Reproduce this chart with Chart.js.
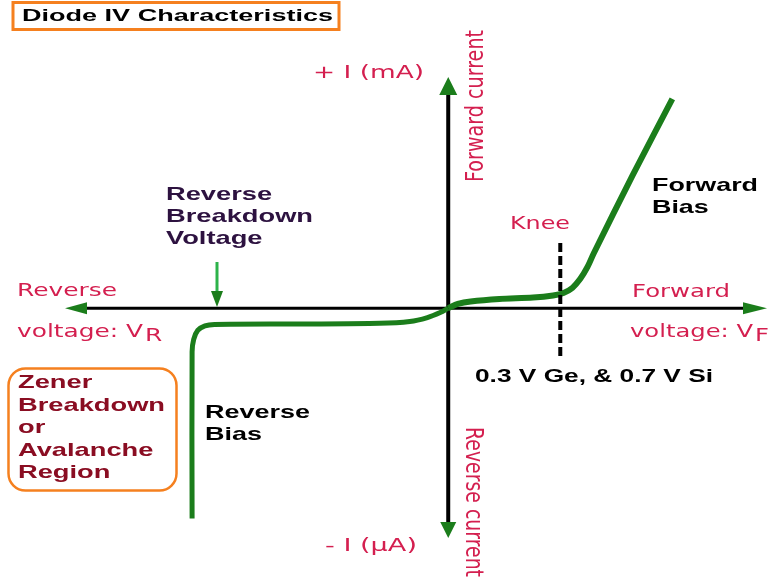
<!DOCTYPE html>
<html>
<head>
<meta charset="utf-8">
<script src="https://cdn.jsdelivr.net/npm/chart.js@4/dist/chart.umd.min.js"></script>
<style>
  html, body { margin: 0; padding: 0; background: #fff; }
  #wrap { width: 778px; height: 583px; }
</style>
</head>
<body>
<div id="wrap"><canvas id="ivChart"></canvas></div>
<script>
// diode curve (V, arbitrary current units)
const forwardV = [0, 0.06, 0.14, 0.32, 0.53, 0.655, 0.72, 0.775, 0.825, 0.87, 0.91, 1.15, 1.4];
const forwardI = [0, 0.2, 0.32, 0.44, 0.51, 0.61, 0.73, 0.97, 1.41, 1.98, 2.65, 6.35, 10.05];
const reverseV = [0, -0.05, -0.13, -0.24, -0.43, -0.93, -1.46, -1.52, -1.565, -1.59, -1.6, -1.6];
const reverseI = [0, -0.21, -0.45, -0.64, -0.73, -0.76, -0.78, -0.85, -1.07, -1.5, -2.1, -10.1];
const kneeV = 0.7;

const GREEN = '#1b7d1b';
const CRIMSON = '#d41f4f';
const ORANGE = '#f5801f';

function drawText(ctx, s, x, y, font, color, w, opts = {}) {
    ctx.save();
    ctx.font = font;
    ctx.fillStyle = color;
    ctx.textAlign = 'left';
    ctx.textBaseline = 'alphabetic';
    const sx = opts.sx || (w ? w / ctx.measureText(s).width : 1);
    ctx.translate(x, y);
    if (opts.rot) ctx.rotate(opts.rot);
    ctx.scale(sx, opts.sy || 1);
    ctx.fillText(s, 0, 0);
    const width = ctx.measureText(s).width * sx;
    ctx.restore();
    return { sx, width };
}

function drawBlock(ctx, lines, x, y, lh, font, color, longestWidth) {
    ctx.save();
    ctx.font = font;
    const longest = Math.max(...lines.map(l => ctx.measureText(l).width));
    ctx.restore();
    const sx = longestWidth / longest;
    lines.forEach((l, i) => drawText(ctx, l, x, y + i * lh, font, color, 0, { sx }));
}

function tri(ctx, ax, ay, bx, by, cx, cy, color) {
    ctx.beginPath();
    ctx.moveTo(ax, ay); ctx.lineTo(bx, by); ctx.lineTo(cx, cy);
    ctx.closePath();
    ctx.fillStyle = color;
    ctx.fill();
}

const diagram = {
    id: 'diagram',
    beforeDatasetsDraw(chart) {
        const ctx = chart.ctx;
        const x0 = chart.scales.x.getPixelForValue(0);
        const y0 = chart.scales.y.getPixelForValue(0);
        ctx.save();
        ctx.strokeStyle = '#000';
        ctx.lineWidth = 3;
        ctx.beginPath();
        ctx.moveTo(86, y0); ctx.lineTo(744, y0);
        ctx.stroke();
        ctx.lineWidth = 4;
        ctx.beginPath();
        ctx.moveTo(x0, 94); ctx.lineTo(x0, 523);
        ctx.stroke();
        ctx.restore();
        tri(ctx, 65, y0, 87, y0 - 6, 87, y0 + 6, GREEN);
        tri(ctx, 767, y0, 743, y0 - 6, 743, y0 + 6, GREEN);
        tri(ctx, x0, 77, x0 - 9, 95, x0 + 9, 95, GREEN);
        tri(ctx, x0, 538, x0 - 8, 522, x0 + 8, 522, GREEN);
    },
    afterDatasetsDraw(chart) {
        const ctx = chart.ctx;
        const xk = chart.scales.x.getPixelForValue(kneeV);
        ctx.save();
        ctx.strokeStyle = '#000';
        ctx.lineWidth = 4;
        ctx.setLineDash([9, 4]);
        ctx.beginPath();
        ctx.moveTo(xk, 243); ctx.lineTo(xk, 357);
        ctx.stroke();
        ctx.restore();

        // breakdown arrow
        ctx.save();
        ctx.strokeStyle = '#2db34a';
        ctx.lineWidth = 3;
        ctx.beginPath();
        ctx.moveTo(217, 262); ctx.lineTo(217, 293);
        ctx.stroke();
        ctx.restore();
        tri(ctx, 217, 307, 211, 291, 223, 291, GREEN);
    },
    afterDraw(chart) {
        const ctx = chart.ctx;
        const bold = '700 19px "Liberation Sans", Arial, sans-serif';
        const thin = '17px "DejaVu Sans", Verdana, sans-serif';

        // title box
        ctx.save();
        ctx.strokeStyle = ORANGE;
        ctx.lineWidth = 3;
        ctx.strokeRect(13, 2.5, 326, 27);
        ctx.lineWidth = 2.5;
        ctx.beginPath();
        ctx.roundRect(8.5, 368.5, 168, 122, 17);
        ctx.stroke();
        ctx.restore();
        drawText(ctx, 'Diode IV Characteristics', 22, 21, '700 17px "Liberation Sans", Arial, sans-serif', '#000', 311);

        // axis labels
        drawText(ctx, '+ I (mA)', 313, 78, thin, CRIMSON, 111);
        drawText(ctx, '- I (\u03bcA)', 325, 551, thin, CRIMSON, 92);
        drawText(ctx, 'Knee', 510, 229, thin, CRIMSON, 60);
        drawText(ctx, 'Forward', 632, 297, thin, CRIMSON, 98);
        drawText(ctx, 'Reverse', 17, 296, thin, CRIMSON, 100);
        let r = drawText(ctx, 'voltage: V', 630, 337, thin, CRIMSON, 123);
        drawText(ctx, 'F', 630 + r.width + 2, 341, thin, CRIMSON, 0, { sx: r.sx });
        r = drawText(ctx, 'voltage: V', 17, 337, thin, CRIMSON, 126);
        drawText(ctx, 'R', 17 + r.width + 2, 341, thin, CRIMSON, 0, { sx: r.sx });
        drawText(ctx, 'Forward current', 483, 182, '19px "DejaVu Sans", Verdana, sans-serif', CRIMSON, 152, { rot: -Math.PI / 2, sy: 1.3 });
        drawText(ctx, 'Reverse current', 466, 427, '19px "DejaVu Sans", Verdana, sans-serif', CRIMSON, 150, { rot: Math.PI / 2, sy: 1.3 });

        // region notes
        drawBlock(ctx, ['Forward', 'Bias'], 652, 191, 22, bold, '#000', 106);
        drawBlock(ctx, ['Reverse', 'Bias'], 205, 418, 22, bold, '#000', 105);
        drawBlock(ctx, ['Reverse', 'Breakdown', 'Voltage'], 166, 200, 22, bold, '#2d1240', 147);
        drawBlock(ctx, ['Zener', 'Breakdown', 'or', 'Avalanche', 'Region'], 18, 388, 22.5, bold, '#8a0d22', 147);
        drawText(ctx, '0.3 V Ge, & 0.7 V Si', 475, 382, bold, '#000', 238);
    }
};

new Chart(
    document.getElementById('ivChart'),
    {
        type: 'line',
        data: {
            datasets: [
                {
                    label: 'Forward',
                    data: forwardV.map((v, i) => ({ x: v, y: forwardI[i] })),
                    borderColor: GREEN,
                    borderWidth: 6,
                    tension: 0.3
                },
                {
                    label: 'Reverse',
                    data: reverseV.map((v, i) => ({ x: v, y: reverseI[i] })),
                    borderColor: GREEN,
                    borderWidth: 5,
                    tension: 0.3
                }
            ]
        },
        options: {
            responsive: true,
            maintainAspectRatio: false,
            animation: false,
            layout: { padding: 0 },
            elements: { point: { radius: 0 } },
            scales: {
                x: { type: 'linear', min: -2.8, max: 2.06, display: false },
                y: { type: 'linear', min: -13.2, max: 14.8, display: false }
            },
            plugins: {
                legend: { display: false },
                tooltip: { enabled: false }
            }
        },
        plugins: [diagram]
    }
);
</script>
</body>
</html>
